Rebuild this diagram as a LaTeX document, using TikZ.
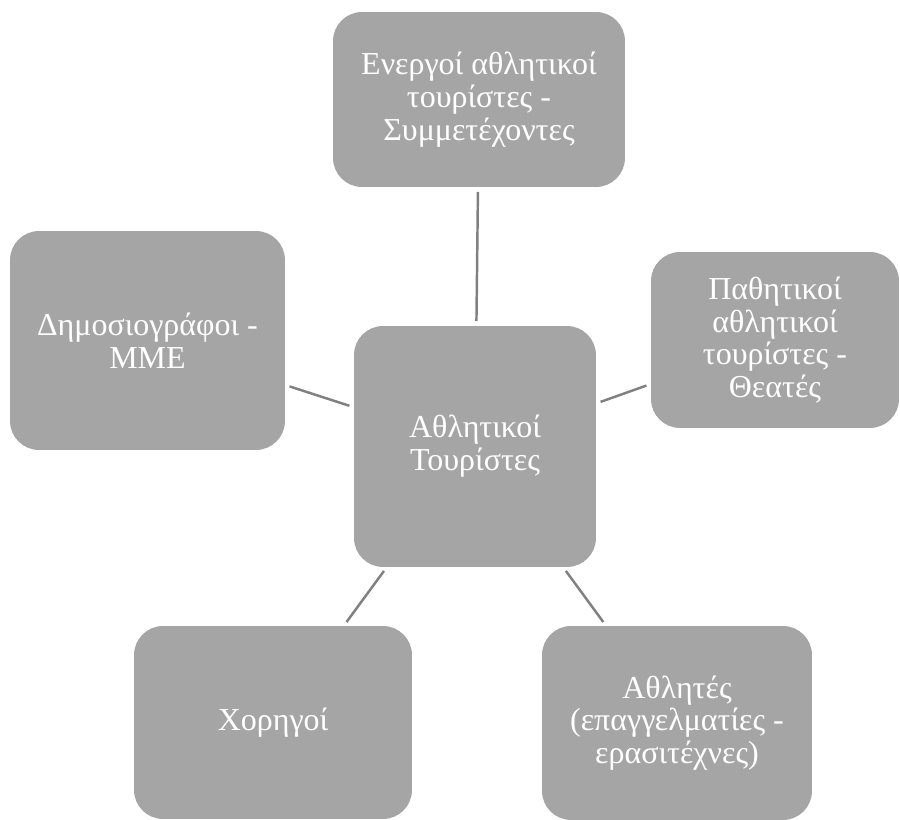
\documentclass[tikz,border=0pt]{standalone}
\usepackage{fontspec}
\setmainfont{Liberation Serif}
\definecolor{boxgray}{HTML}{A5A5A5}
\definecolor{linkgray}{HTML}{808080}

\begin{document}
\begin{tikzpicture}[x=0.02cm,y=-0.02cm]
\tikzset{petal/.style={fill=boxgray,rounded corners=0.58cm,text=white,align=center,inner sep=0pt,font=\fontsize{18.2}{18.7}\selectfont},
	link/.style={draw=linkgray,line width=1.4pt,shorten <=0.09cm,shorten >=0.09cm}}
\useasboundingbox (0,0) rectangle (900,820);

\node[petal,minimum width=4.84cm,minimum height=4.82cm] (tourists) at (475,446.5) {Αθλητικοί\\Τουρίστες};
\node[petal,minimum width=5.84cm,minimum height=3.5cm] (active) at (479,99.5) {Ενεργοί αθλητικοί\\τουρίστες -\\Συμμετέχοντες};
\node[petal,minimum width=4.96cm,minimum height=3.52cm] (passive) at (775,340) {Παθητικοί\\αθλητικοί\\τουρίστες -\\Θεατές};
\node[petal,minimum width=5.5cm,minimum height=4.38cm] (media) at (147.5,340.5) {Δημοσιογράφοι -\\ΜΜΕ};
\node[petal,minimum width=5.56cm,minimum height=3.86cm] (sponsors) at (273,722.5) {Χορηγοί};
\node[petal,minimum width=5.4cm,minimum height=3.88cm] (athletes) at (677,723) {Αθλητές\\(επαγγελματίες -\\ερασιτέχνες)};

\draw[link] (tourists) -- (active);
\draw[link] (tourists) -- (passive);
\draw[link] (tourists) -- (media);
\draw[link] (tourists) -- (sponsors);
\draw[link] (tourists) -- (athletes);
\end{tikzpicture}
\end{document}
